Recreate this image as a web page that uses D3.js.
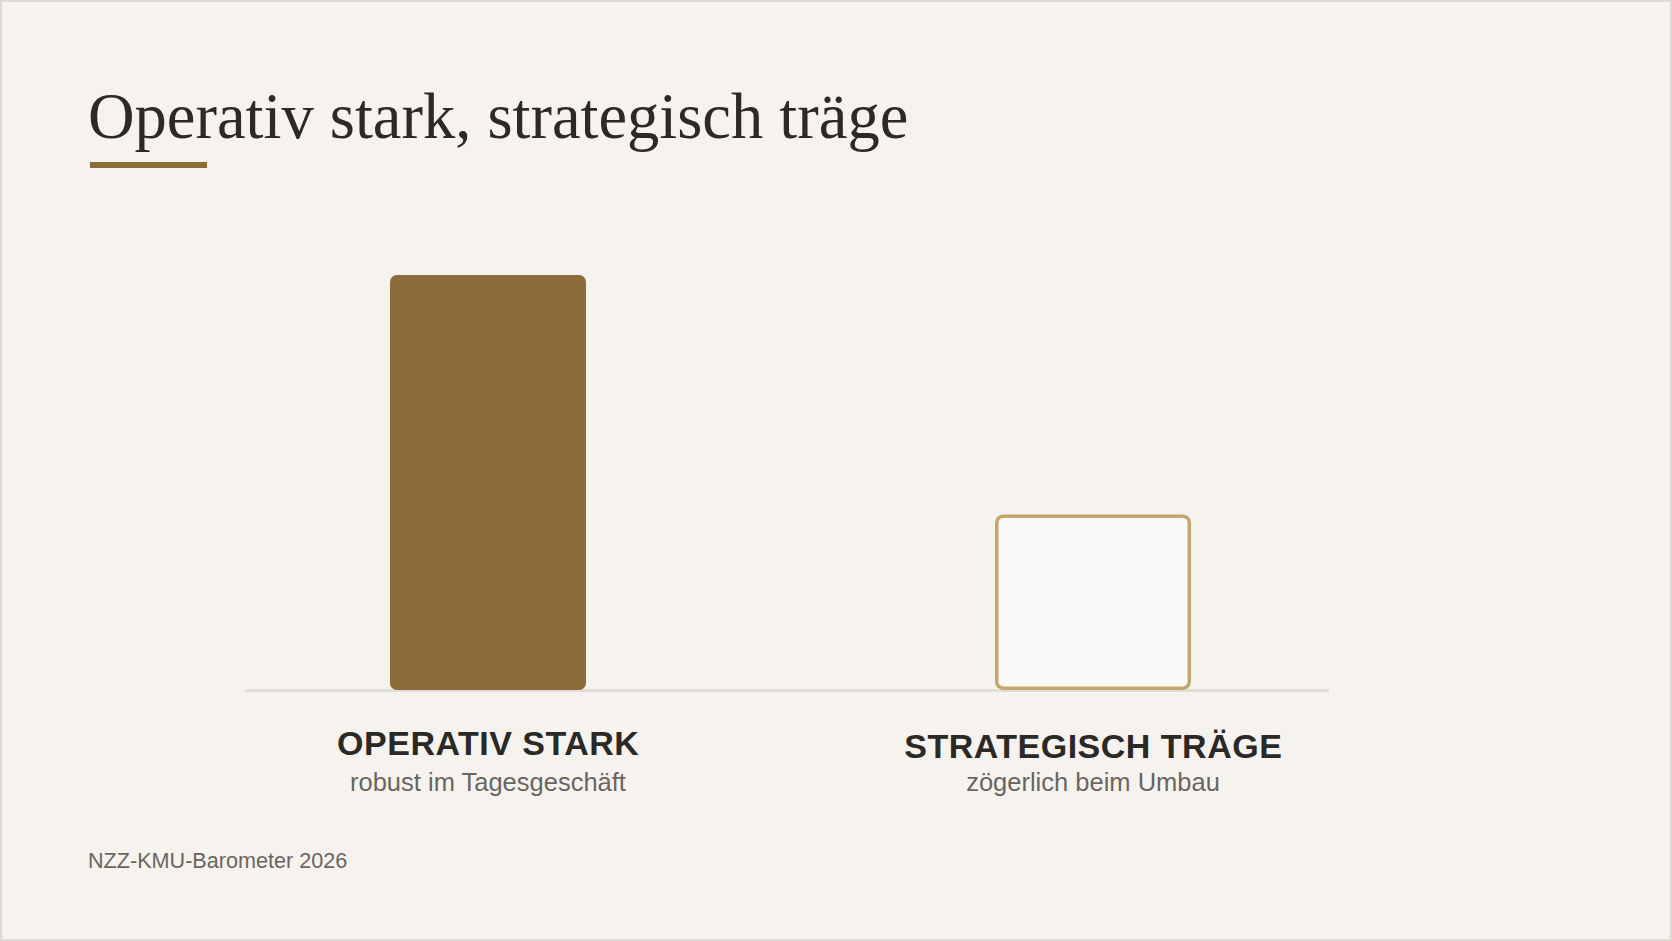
<!DOCTYPE html>
<html lang="de">
<head>
<meta charset="utf-8">
<script src="https://cdn.jsdelivr.net/npm/d3@7/dist/d3.min.js"></script>
<style>
  html, body { margin: 0; padding: 0; background: #f6f3ee; }
  svg { display: block; }
</style>
</head>
<body>
<script>
// ---- data ----
const categories = ["OPERATIV STARK", "STRATEGISCH TRÄGE"];
const subtitles = ["robust im Tagesgeschäft", "zögerlich beim Umbau"];
const values = [78, 33];
const barStyles = ["solid", "outline"];
const titleText = "Operativ stark, strategisch träge";
const sourceText = "NZZ-KMU-Barometer 2026";

// ---- layout ----
const W = 1672, H = 941;
const baseY = 690;
const axisX0 = 245, axisX1 = 1329;

const svg = d3.select("body").append("svg")
  .attr("width", W).attr("height", H);

// page background + frame
svg.append("rect").attr("x", 1).attr("y", 1).attr("width", W - 2).attr("height", H - 2)
  .attr("fill", "#f6f3ee").attr("stroke", "#dedad3").attr("stroke-width", 2);

// title
svg.append("text").attr("x", 88).attr("y", 137.5)
  .attr("font-family", "'Liberation Serif', Georgia, serif")
  .attr("font-size", 64.5).attr("fill", "#2d2a26")
  .text(titleText);
svg.append("rect").attr("x", 90).attr("y", 162).attr("width", 117).attr("height", 6)
  .attr("fill", "#8b6d3a");

// scales
const x = d3.scaleBand().domain(categories).range([249, 1332])
  .paddingInner(0.676).paddingOuter(0.233);
const y = d3.scaleLinear().domain([0, 100]).range([baseY, 158]);

// baseline
svg.append("line").attr("x1", axisX0).attr("x2", axisX1)
  .attr("y1", baseY + 0.5).attr("y2", baseY + 0.5)
  .attr("stroke", "#e0ddd6").attr("stroke-width", 3);

const data = categories.map((c, i) => ({ c, v: values[i], sub: subtitles[i], style: barStyles[i] }));

const sw = 3.5;
svg.selectAll("rect.bar").data(data).join("rect")
  .attr("class", "bar")
  .attr("x", d => d.style === "solid" ? x(d.c) : x(d.c) + sw / 2)
  .attr("width", d => d.style === "solid" ? x.bandwidth() : x.bandwidth() - sw)
  .attr("y", d => d.style === "solid" ? y(d.v) : y(d.v) + sw / 2)
  .attr("height", d => d.style === "solid" ? y(0) - y(d.v) : y(0) - y(d.v) - sw)
  .attr("rx", d => d.style === "solid" ? 7 : 6.5)
  .attr("fill", d => d.style === "solid" ? "#8b6d3a" : "#faf9f7")
  .attr("stroke", d => d.style === "solid" ? "none" : "#c3a86d")
  .attr("stroke-width", d => d.style === "solid" ? 0 : sw);

// category labels
svg.selectAll("text.cat").data(data).join("text")
  .attr("class", "cat")
  .attr("x", d => x(d.c) + x.bandwidth() / 2 + 0.25)
  .attr("y", (d, i) => 755 + i * 3)
  .attr("text-anchor", "middle")
  .attr("font-family", "'Liberation Sans', Arial, sans-serif")
  .attr("font-weight", "bold")
  .attr("font-size", 34)
  .attr("letter-spacing", 0.5)
  .attr("fill", "#2b2926")
  .text(d => d.c);

svg.selectAll("text.sub").data(data).join("text")
  .attr("class", "sub")
  .attr("x", d => x(d.c) + x.bandwidth() / 2)
  .attr("y", 791)
  .attr("text-anchor", "middle")
  .attr("font-family", "'Liberation Sans', Arial, sans-serif")
  .attr("font-size", 25.5)
  .attr("fill", "#6a6560")
  .text(d => d.sub);

// source
svg.append("text").attr("x", 88).attr("y", 868)
  .attr("font-family", "'Liberation Sans', Arial, sans-serif")
  .attr("font-size", 21.6)
  .attr("fill", "#6a6560")
  .text(sourceText);
</script>
</body>
</html>
